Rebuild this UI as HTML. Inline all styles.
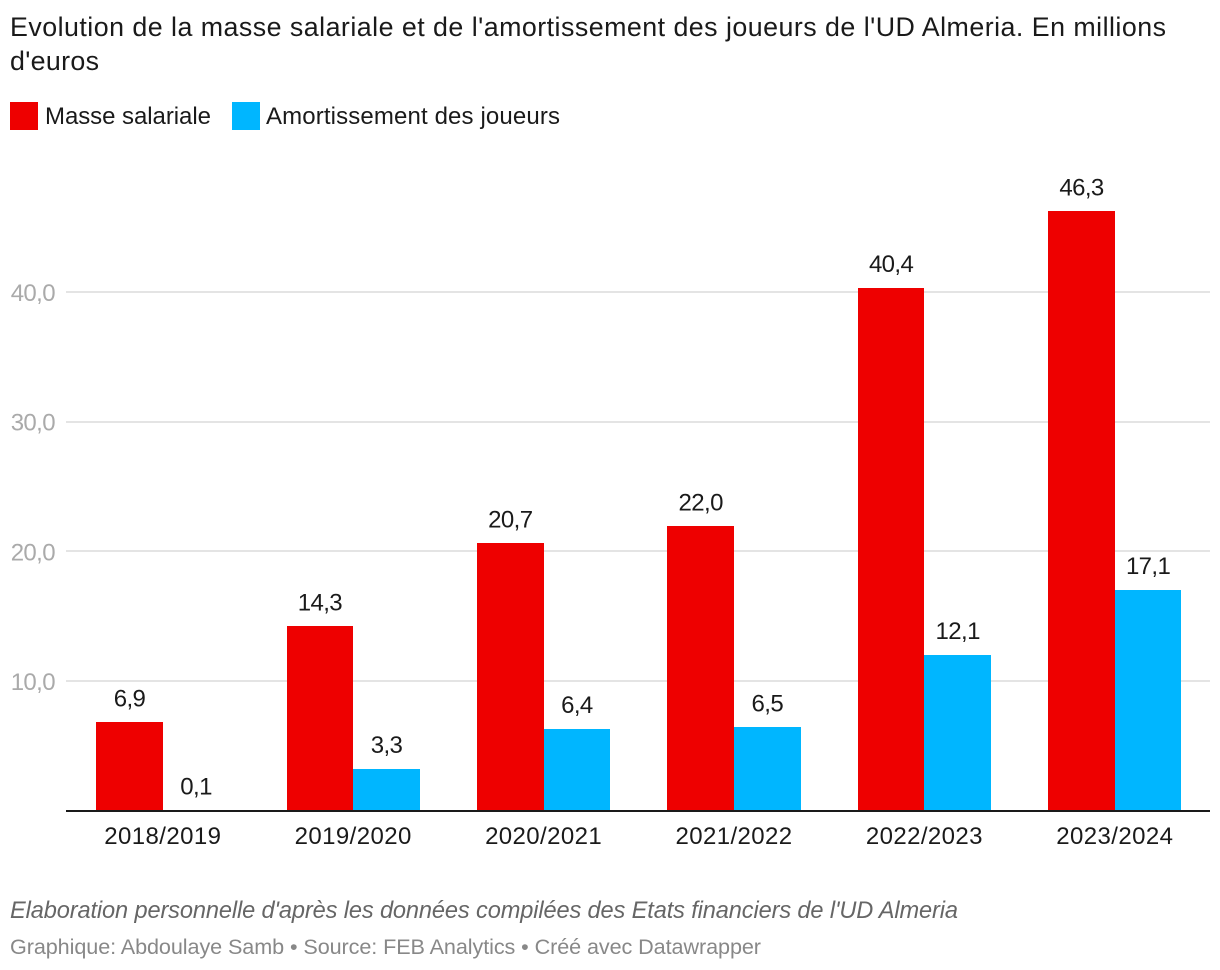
<!DOCTYPE html>
<html lang="fr">
<head>
<meta charset="utf-8">
<title>Evolution de la masse salariale</title>
<style>
html,body{margin:0;padding:0;background:#fff;width:1220px;height:970px;overflow:hidden}
svg{display:block;font-family:"Liberation Sans",sans-serif}
</style>
</head>
<body>
<svg id="chart" width="1220" height="970" viewBox="0 0 1220 970">
  <text x="10" y="36" font-size="26.8" fill="#1a1a1a" textLength="1156" lengthAdjust="spacing">Evolution de la masse salariale et de l'amortissement des joueurs de l'UD Almeria. En millions</text>
  <text x="10" y="70" font-size="26.8" fill="#1a1a1a" textLength="89" lengthAdjust="spacing">d'euros</text>

  <rect x="10" y="102" width="28" height="28" fill="#ee0000"/>
  <text x="45" y="124" font-size="24" fill="#1a1a1a" textLength="166" lengthAdjust="spacing">Masse salariale</text>
  <rect x="232" y="102" width="28" height="28" fill="#00b6ff"/>
  <text x="266" y="124" font-size="24" fill="#1a1a1a" textLength="294" lengthAdjust="spacing">Amortissement des joueurs</text>

  <g id="grid"></g>
  <g id="bars"></g>
  <rect x="66" y="810" width="1144" height="2" fill="#1a1a1a"/>
  <g id="labels"></g>
  <g id="cats"></g>

  <text x="10" y="918" font-size="23.6" font-style="italic" fill="#666666" textLength="948" lengthAdjust="spacing">Elaboration personnelle d'après les données compilées des Etats financiers de l'UD Almeria</text>
  <text x="10" y="954" font-size="21.6" fill="#888888" textLength="751" lengthAdjust="spacing">Graphique: Abdoulaye Samb • Source: FEB Analytics • Créé avec Datawrapper</text>
</svg>
<script>
var categories = ["2018/2019","2019/2020","2020/2021","2021/2022","2022/2023","2023/2024"];
var masseSalariale = [6.9,14.3,20.7,22.0,40.4,46.3];
var amortissement = [0.1,3.3,6.4,6.5,12.1,17.1];
var yTicks = [10,20,30,40];

var NS = "http://www.w3.org/2000/svg";
var baseY = 811, pxPerUnit = 12.96;
var firstCenter = 162.8, groupStep = 190.4, barWidth = 66.6;
function yScale(v){ return baseY - v * pxPerUnit; }
function xCenter(i){ return firstCenter + i * groupStep; }
function fmt(v){ return v.toFixed(1).replace(".", ","); }
function make(tag, attrs, parent, text){
  var el = document.createElementNS(NS, tag);
  for (var k in attrs) el.setAttribute(k, attrs[k]);
  if (text !== undefined) el.textContent = text;
  parent.appendChild(el);
  return el;
}
var gridG = document.getElementById("grid");
var barsG = document.getElementById("bars");
var labelsG = document.getElementById("labels");
var catsG = document.getElementById("cats");

yTicks.forEach(function(t){
  var line = make("rect", {x:66, y:Math.floor(yScale(t))-1, width:1144, height:2, fill:"#e4e4e4"}, gridG);
  
  
  var lab = make("text", {x:55, y:yScale(t)+8.5, "font-size":24, "letter-spacing":"-0.6", "text-anchor":"end", fill:"#aaaaaa"}, gridG, fmt(t));
  
  
});

categories.forEach(function(c, i){
  var cx = xCenter(i);
  var rv = masseSalariale[i], bv = amortissement[i];
  var left = Math.round(cx - barWidth), mid = Math.round(cx), right = Math.round(cx + barWidth);
  var rTop = Math.ceil(yScale(rv)), bTop = Math.ceil(yScale(bv));

  var r = make("rect", {x:left, y:rTop, width:mid-left, height:baseY-rTop, fill:"#ee0000"}, barsG);
  
  

  var b = make("rect", {x:mid, y:bTop, width:right-mid, height:baseY-bTop, fill:"#00b6ff"}, barsG);
  
  

  var rl = make("text", {x:cx-barWidth/2, y:yScale(rv)-15.3, "font-size":24, "letter-spacing":"-0.6", "text-anchor":"middle", fill:"#1a1a1a"}, labelsG, fmt(rv));
  
  

  var bl = make("text", {x:cx+barWidth/2, y:yScale(bv)-15.3, "font-size":24, "letter-spacing":"-0.6", "text-anchor":"middle", fill:"#1a1a1a"}, labelsG, fmt(bv));
  
  

  var cl = make("text", {x:cx, y:844, "font-size":24, "letter-spacing":"0.4", "text-anchor":"middle", fill:"#1a1a1a"}, catsG, c);
  
  
});
</script>
</body>
</html>
